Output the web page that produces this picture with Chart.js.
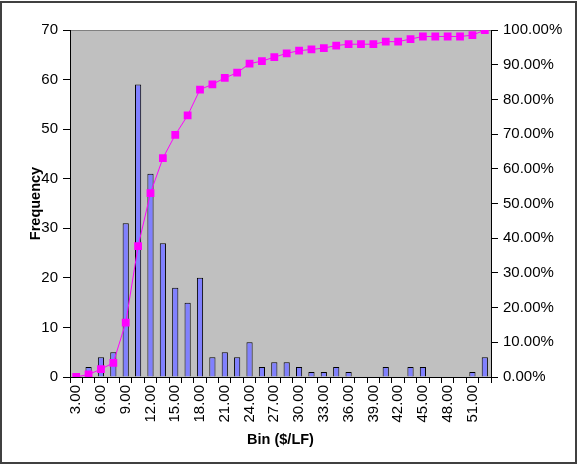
<!DOCTYPE html>
<html>
<head>
<meta charset="utf-8">
<script src="https://cdn.jsdelivr.net/npm/chart.js@4.4.1/dist/chart.umd.min.js"></script>
<style>
  html, body { margin: 0; padding: 0; background: #ffffff; }
  #wrap { width: 579px; height: 465px; position: relative; }
</style>
</head>
<body>
<div id="wrap"><canvas id="c" width="579" height="465"></canvas></div>
<script>
// Bin labels (upper bounds, $/LF)
const categories = ["3.00","4.50","6.00","7.50","9.00","10.50","12.00","13.50","15.00","16.50",
  "18.00","19.50","21.00","22.50","24.00","25.50","27.00","28.50","30.00","31.50",
  "33.00","34.50","36.00","37.50","39.00","40.50","42.00","43.50","45.00","46.50",
  "48.00","49.50","51.00","More"];
// Frequency per bin
const frequency = [0,2,4,5,31,59,41,27,18,15,
  20,4,5,4,7,2,3,3,2,1,
  1,2,1,0,0,2,0,2,2,0,
  0,0,1,4];
// Cumulative percentage
const cumulativePct = [0.00,0.75,2.24,4.10,15.67,37.69,52.99,63.06,69.78,75.37,
  82.84,84.33,86.19,87.69,90.30,91.04,92.16,93.28,94.03,94.40,
  94.78,95.52,95.90,95.90,95.90,96.64,96.64,97.39,98.13,98.13,
  98.13,98.13,98.51,100.00];
const freqTicks = [0,10,20,30,40,50,60,70];
const pctTicks = [0,10,20,30,40,50,60,70,80,90,100];

const FONT = "'Liberation Sans', Arial, sans-serif";

const bgPlugin = {
  id: 'bg',
  beforeDraw(chart) {
    const ctx = chart.ctx;
    const a = chart.chartArea;
    ctx.save();
    ctx.fillStyle = '#ffffff';
    ctx.fillRect(0, 0, chart.width, chart.height);
    ctx.fillStyle = '#c0c0c0';
    ctx.fillRect(a.left, a.top, a.right - a.left, a.bottom - a.top);
    ctx.strokeStyle = '#808080';
    ctx.lineWidth = 1;
    ctx.strokeRect(a.left + 0.5, a.top + 0.5, a.right - a.left, a.bottom - a.top);
    ctx.strokeStyle = '#404040';
    ctx.lineWidth = 2;
    ctx.strokeRect(1, 2, 575, 461);
    ctx.restore();
  }
};

new Chart(document.getElementById('c'), {
  data: {
    labels: categories,
    datasets: [
      {
        type: 'line',
        label: 'Cumulative %',
        data: cumulativePct,
        yAxisID: 'y1',
        borderColor: '#ff00ff',
        backgroundColor: '#ff00ff',
        borderWidth: 1,
        pointStyle: 'rect',
        pointRadius: 5.5,
        pointBorderWidth: 0,
        pointBackgroundColor: '#ff00ff',
        tension: 0,
        order: 0
      },
      {
        type: 'bar',
        label: 'Frequency',
        data: frequency,
        yAxisID: 'y',
        backgroundColor: '#8080ff',
        borderColor: '#000000',
        borderWidth: 1,
        barPercentage: 1.0,
        categoryPercentage: 0.5,
        order: 1
      }
    ]
  },
  options: {
    responsive: false,
    animation: false,
    layout: { padding: { left: 0, right: 0, top: 30, bottom: 12 } },
    plugins: { legend: { display: false }, tooltip: { enabled: false } },
    scales: {
      x: {
        type: 'category',
        offset: true,
        grid: { offset: true, drawOnChartArea: false, drawTicks: true, tickLength: 6, color: '#000000' },
        border: { display: true, color: '#000000', width: 1 },
        ticks: {
          autoSkip: false,
          minRotation: 90,
          maxRotation: 90,
          padding: 2,
          color: '#000000',
          font: { family: FONT, size: 15 },
          callback: function(v, i) { return i % 2 === 0 ? categories[i] : ''; }
        },
        title: { display: true, text: 'Bin ($/LF)', color: '#000000', font: { family: FONT, size: 14.5, weight: 'bold' }, padding: { top: 4, bottom: 4 } },
        afterFit(scale) { scale.height = 76; }
      },
      y: {
        position: 'left',
        min: 0, max: 70,
        afterBuildTicks(scale) { scale.ticks = freqTicks.map(v => ({ value: v })); },
        grid: { drawOnChartArea: false, drawTicks: true, tickLength: 7, color: '#000000' },
        border: { display: true, color: '#000000', width: 1 },
        ticks: { padding: 5, color: '#000000', font: { family: FONT, size: 15 } },
        title: { display: true, text: 'Frequency', color: '#000000', font: { family: FONT, size: 14.5, weight: 'bold' }, padding: { top: 27, bottom: 0 } },
        afterFit(scale) { scale.width = 70; }
      },
      y1: {
        position: 'right',
        min: 0, max: 100,
        afterBuildTicks(scale) { scale.ticks = pctTicks.map(v => ({ value: v })); },
        grid: { drawOnChartArea: false, drawTicks: true, tickLength: 7, color: '#000000' },
        border: { display: true, color: '#000000', width: 1 },
        ticks: { padding: 5, color: '#000000', font: { family: FONT, size: 15 },
          callback: v => v.toFixed(2) + '%' },
        afterFit(scale) { scale.width = 88; }
      }
    }
  },
  plugins: [bgPlugin]
});
</script>
</body>
</html>
